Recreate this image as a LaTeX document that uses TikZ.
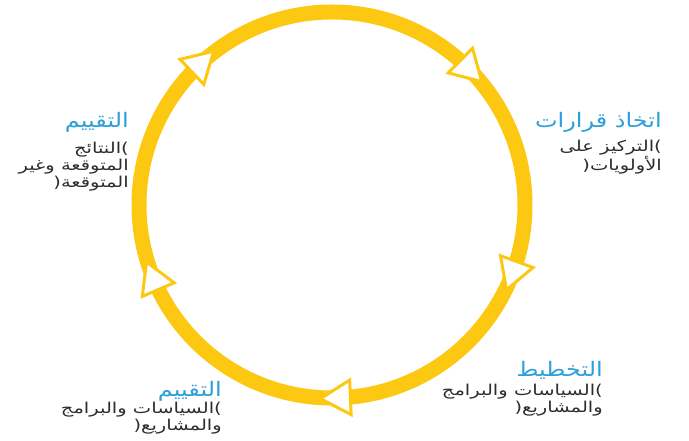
\documentclass[tikz,border=0pt]{standalone}
\usepackage{fontspec}
\newfontfamily\titlefont[Script=Arabic,FakeStretch=1.2]{DejaVu Sans}
\newfontfamily\descfont[Script=Arabic,FakeStretch=1.3]{DejaVu Sans}
\TeXXeTstate=1
\usetikzlibrary{shapes.geometric}
\definecolor{ringyellow}{RGB}{252,200,18}
\definecolor{titleblue}{RGB}{45,160,218}
\definecolor{textgray}{RGB}{45,45,45}
\newcommand\RLline[1]{\beginR #1\endR}
\tikzset{
  ring/.style={draw=ringyellow, line width=15pt},
  flowarrow/.style={regular polygon, regular polygon sides=3, draw=ringyellow, fill=white, line width=3pt, minimum size=40pt, inner sep=0pt},
  titletext/.style={font=\titlefont\fontsize{20}{22}\selectfont, text=titleblue, inner sep=0pt, anchor=north east},
  desctext/.style={font=\descfont\fontsize{15}{17}\selectfont, text=textgray, inner sep=0pt, anchor=north east, align=right},
}
\begin{document}
\begin{tikzpicture}[x=1pt,y=1pt]
\useasboundingbox (0,0) rectangle (689,441);
\coordinate (c) at (332,236);
\draw[ring] (c) circle[radius=193];
\node[flowarrow, rotate=-46.5] (a1) at ([shift={(133.5:193)}]c) {};
\node[flowarrow, rotate=-134.6] (a2) at ([shift={(45.4:193)}]c) {};
\node[flowarrow, rotate=-200] (a3) at ([shift={(-20:193)}]c) {};
\node[flowarrow, rotate=-267.5] (a4) at ([shift={(-87.5:193)}]c) {};
\node[flowarrow, rotate=23] (a5) at ([shift={(203:193)}]c) {};
% top left
\node[titletext] (tlt) at (129,329) {\RLline{التقييم}};
\node[desctext] (tld) at (129,299) {\RLline{)النتائج}\\\RLline{المتوقعة وغير}\\\RLline{المتوقعة(}};
% right
\node[titletext] (rt) at (662,329) {\RLline{اتخاذ قرارات}};
\node[desctext] (rd) at (662,301) {\RLline{)التركيز على}\\\RLline{الأولويات(}};
% bottom right
\node[titletext] (brt) at (603,80) {\RLline{التخطيط}};
\node[desctext] (brd) at (603,57) {\RLline{)السياسات والبرامج}\\\RLline{والمشاريع(}};
% bottom left
\node[titletext] (blt) at (222,60) {\RLline{التقييم}};
\node[desctext] (bld) at (222,39) {\RLline{)السياسات والبرامج}\\\RLline{والمشاريع(}};
\end{tikzpicture}
\end{document}
